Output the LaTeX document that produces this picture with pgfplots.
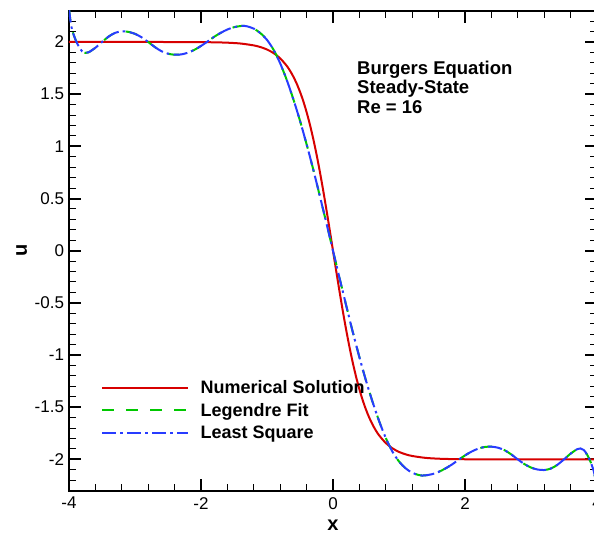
\documentclass[border=0pt]{standalone}
\usepackage{fontspec}
\setmainfont{Liberation Sans}
\usepackage{pgfplots}
\usepackage{pgfplotstable}
\pgfplotsset{compat=1.18}

\definecolor{cred}{RGB}{215,0,0}
\definecolor{cgreen}{RGB}{0,200,0}
\definecolor{cblue}{RGB}{40,60,255}

\pgfplotstableread{
x u
-4.0 2.0
-3.5 2.0
-3.0 2.0
-2.5 1.9999
-2.0 1.9987
-1.8 1.9970
-1.6 1.9934
-1.4 1.9853
-1.2 1.9673
-1.1 1.9515
-1.0 1.9281
-0.9 1.8936
-0.8 1.8433
-0.7 1.7707
-0.65 1.7234
-0.6 1.6673
-0.55 1.6010
-0.5 1.5232
-0.45 1.4326
-0.4 1.3281
-0.35 1.2087
-0.3 1.0741
-0.25 0.9242
-0.2 0.7599
-0.15 0.5826
-0.1 0.3948
-0.05 0.1993
0.0 0.0
0.05 -0.1993
0.1 -0.3948
0.15 -0.5826
0.2 -0.7599
0.25 -0.9242
0.3 -1.0741
0.35 -1.2087
0.4 -1.3281
0.45 -1.4326
0.5 -1.5232
0.55 -1.6010
0.6 -1.6673
0.65 -1.7234
0.7 -1.7707
0.8 -1.8433
0.9 -1.8936
1.0 -1.9281
1.1 -1.9515
1.2 -1.9673
1.4 -1.9853
1.6 -1.9934
1.8 -1.9970
2.0 -1.9987
2.5 -1.9999
3.0 -2.0
3.5 -2.0
4.0 -2.0
}\numsol

\pgfplotstableread{
x leg lsq
-4.0 2.32 2.32
-3.975 2.19 2.19
-3.95 2.11 2.11
-3.9 2.02 2.02
-3.85 1.955 1.955
-3.8 1.91 1.91
-3.75 1.895 1.895
-3.7 1.902 1.902
-3.6 1.945 1.945
-3.5 2.0 2.0
-3.4 2.052 2.052
-3.3 2.088 2.088
-3.2 2.102 2.102
-3.1 2.097 2.097
-3.0 2.078 2.078
-2.9 2.045 2.045
-2.8 2.0 2.0
-2.7 1.952 1.952
-2.6 1.912 1.912
-2.5 1.888 1.888
-2.4 1.878 1.878
-2.3 1.881 1.881
-2.2 1.897 1.897
-2.1 1.925 1.925
-2.0 1.962 1.962
-1.9 2.005 2.005
-1.8 2.05 2.05
-1.7 2.088 2.088
-1.6 2.12 2.12
-1.5 2.142 2.142
-1.4 2.153 2.153
-1.35 2.155 2.155
-1.3 2.150 2.150
-1.2 2.128 2.128
-1.1 2.085 2.085
-1.0 2.02 2.02
-0.9 1.925 1.925
-0.8 1.795 1.795
-0.7 1.635 1.635
-0.6 1.45 1.45
-0.5 1.245 1.245
-0.4 1.02 1.02
-0.3 0.78 0.78
-0.2 0.525 0.525
-0.1 0.265 0.265
0.0 0.0 0.0
0.1 -0.265 -0.265
0.2 -0.525 -0.525
0.3 -0.78 -0.78
0.4 -1.02 -1.02
0.5 -1.245 -1.245
0.6 -1.45 -1.45
0.7 -1.635 -1.635
0.8 -1.795 -1.795
0.9 -1.925 -1.925
1.0 -2.02 -2.02
1.1 -2.085 -2.085
1.2 -2.128 -2.128
1.3 -2.150 -2.150
1.35 -2.155 -2.155
1.4 -2.153 -2.153
1.5 -2.142 -2.142
1.6 -2.12 -2.12
1.7 -2.088 -2.088
1.8 -2.05 -2.05
1.9 -2.005 -2.005
2.0 -1.962 -1.962
2.1 -1.925 -1.925
2.2 -1.897 -1.897
2.3 -1.881 -1.881
2.4 -1.878 -1.878
2.5 -1.888 -1.888
2.6 -1.912 -1.912
2.7 -1.952 -1.952
2.8 -2.0 -2.0
2.9 -2.045 -2.045
3.0 -2.078 -2.078
3.1 -2.097 -2.097
3.2 -2.102 -2.102
3.3 -2.088 -2.088
3.4 -2.052 -2.052
3.5 -2.0 -2.0
3.6 -1.945 -1.945
3.7 -1.902 -1.902
3.75 -1.895 -1.895
3.8 -1.91 -1.91
3.85 -1.955 -1.955
3.9 -2.02 -2.02
3.95 -2.11 -2.11
3.975 -2.19 -2.19
4.0 -2.32 -2.32
}\fits

\begin{document}
\begin{tikzpicture}
\begin{axis}[
  scale only axis, width=528pt, height=480pt,
  xmin=-4, xmax=4, ymin=-2.3, ymax=2.3,
  axis line style={line width=2pt},
  xtick={-4,-2,0,2,4},
  ytick={-2,-1.5,-1,-0.5,0,0.5,1,1.5,2},
  minor xtick={-3.6,-3.2,-2.8,-2.4,-1.6,-1.2,-0.8,-0.4,0.4,0.8,1.2,1.6,2.4,2.8,3.2,3.6},
  minor ytick={-2.2,-2.1,-1.9,-1.8,-1.7,-1.6,-1.4,-1.3,-1.2,-1.1,-0.9,-0.8,-0.7,-0.6,-0.4,-0.3,-0.2,-0.1,0.1,0.2,0.3,0.4,0.6,0.7,0.8,0.9,1.1,1.2,1.3,1.4,1.6,1.7,1.8,1.9,2.1,2.2},
  tick align=inside,
  major tick length=12pt, minor tick length=7pt,
  every major tick/.append style={line width=2pt, black},
  every minor tick/.append style={line width=1pt, black},
  /pgf/number format/assume math mode=true,
  tick label style={font=\fontsize{17}{19}\selectfont},
  xticklabel style={yshift=-3pt},
  yticklabel style={xshift=-1.5pt},
  xlabel={x}, ylabel={u},
  xlabel style={font=\bfseries\fontsize{20}{22}\selectfont, at={(axis description cs:0.5,-0.0715)}, anchor=center},
  ylabel style={font=\bfseries\fontsize{20}{22}\selectfont, at={(axis description cs:-0.0896,0.5)}, anchor=center},
  legend cell align=left,
  legend image code/.code={\draw[#1, dash phase=0pt] (0pt,0pt) -- (86pt,0pt);},
  legend style={at={(rel axis cs:0.0606,0.2333)}, anchor=north west, draw=none, fill=none,
    inner sep=0pt, row sep=4.5pt,
    font=\bfseries\fontsize{18}{20}\selectfont,
    nodes={inner sep=2pt, text height=13pt, text depth=1pt},
    /tikz/every odd column/.append style={column sep=9.5pt}},
]
\coordinate (o) at (rel axis cs:0,0);
\addplot[cred, line width=2pt, smooth] table[x=x, y=u] {\numsol};
\addlegendentry{Numerical Solution}
\addplot[cgreen, line width=2pt, dash pattern=on 12pt off 12pt, smooth] table[x=x, y=leg] {\fits};
\addlegendentry{Legendre Fit}
\addplot[cblue, line width=2pt, dash pattern=on 14pt off 4pt on 2.5pt off 4.5pt, smooth] table[x=x, y=lsq] {\fits};
\addlegendentry{Least Square}
\node[anchor=base west, inner sep=0pt, font=\bfseries\fontsize{18.5}{20}\selectfont] at (rel axis cs:0.5455,0.868) {Burgers Equation};
\node[anchor=base west, inner sep=0pt, font=\bfseries\fontsize{18.5}{20}\selectfont] at (rel axis cs:0.5455,0.828) {Steady-State};
\node[anchor=base west, inner sep=0pt, font=\bfseries\fontsize{18.5}{20}\selectfont] at (rel axis cs:0.5455,0.786) {Re = 16};
\end{axis}
\pgfresetboundingbox
\path[use as bounding box] (o) ++(-69pt,-43.3pt) rectangle ++(594pt,534pt);
\end{tikzpicture}
\end{document}
